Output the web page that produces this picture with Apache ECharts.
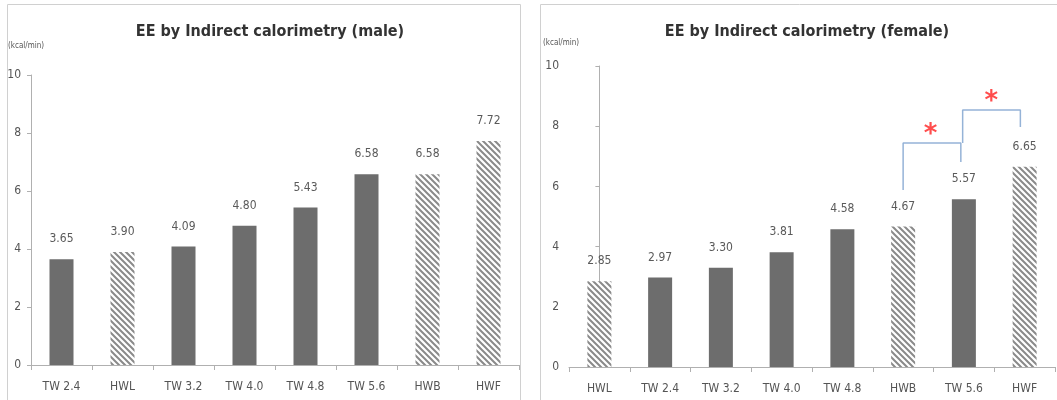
<!DOCTYPE html>
<html>
<head>
<meta charset="utf-8">
<script src="https://cdn.jsdelivr.net/npm/echarts@6/dist/echarts.min.js"></script>
<style>
  html, body { margin: 0; padding: 0; background: #fff; }
  #chart { width: 1057px; height: 400px; }
</style>
</head>
<body>
<div id="chart"></div>
<script>
// male panel
var maleCats = ['TW 2.4', 'HWL', 'TW 3.2', 'TW 4.0', 'TW 4.8', 'TW 5.6', 'HWB', 'HWF'];
var maleVals = [3.65, 3.90, 4.09, 4.80, 5.43, 6.58, 6.58, 7.72];
// female panel
var femaleCats = ['HWL', 'TW 2.4', 'TW 3.2', 'TW 4.0', 'TW 4.8', 'HWB', 'TW 5.6', 'HWF'];
var femaleVals = [2.85, 2.97, 3.30, 3.81, 4.58, 4.67, 5.57, 6.65];
// significance brackets (female), x as category index, y in kcal/min
var bracket1 = [[5, 5.88], [5, 7.44], [5.95, 7.44], [5.95, 6.81]];
var bracket2 = [[5.98, 7.44], [5.98, 8.54], [6.93, 8.54], [6.93, 7.97]];
var stars = [[5.45, 7.87], [6.45, 8.97]];

var hatch = (function () {
    var c = document.createElement('canvas');
    c.width = 6; c.height = 6;
    var g = c.getContext('2d');
    g.fillStyle = '#fff';
    g.fillRect(0, 0, 6, 6);
    g.strokeStyle = '#8a8a8a';
    g.lineWidth = 2;
    g.beginPath();
    g.moveTo(-1, -1); g.lineTo(7, 7);
    g.moveTo(-1, 5); g.lineTo(1, 7);
    g.moveTo(5, -1); g.lineTo(7, 1);
    g.stroke();
    return c;
})();

function barData(cats, vals) {
    return vals.map(function (v, i) {
        var hw = cats[i].indexOf('HW') === 0;
        return {
            value: v,
            itemStyle: { color: hw ? { image: hatch, repeat: 'repeat' } : '#6d6d6d' }
        };
    });
}

var font = "'Liberation Sans Narrow', 'DejaVu Sans Condensed', 'Liberation Sans', sans-serif";

function catAxis(idx, cats) {
    return {
        type: 'category', gridIndex: idx, data: cats,
        axisLine: { lineStyle: { color: '#b0b0b0' } },
        axisTick: { show: true, length: 5, lineStyle: { color: '#b0b0b0' } },
        axisLabel: { color: '#555', fontSize: 12, fontFamily: font, margin: 16 }
    };
}
function valAxis(idx) {
    return {
        type: 'value', gridIndex: idx, min: 0, max: 10, interval: 2,
        axisLine: { show: true, lineStyle: { color: '#b0b0b0' } },
        axisTick: { show: true, length: 4, lineStyle: { color: '#b0b0b0' } },
        axisLabel: { color: '#555', fontSize: 12, fontFamily: font, margin: 10 },
        splitLine: { show: false }
    };
}

var labelStyle = {
    show: true, position: 'top', distance: 14, color: '#5a5a5a', fontSize: 12, fontFamily: font,
    formatter: function (p) { return p.value.toFixed(2); }
};

var chart = echarts.init(document.getElementById('chart'));
chart.setOption({
    animation: false,
    title: [{
        text: 'EE by Indirect calorimetry (male)', left: 265, top: 19, textAlign: 'center',
        textStyle: { fontFamily: font, fontSize: 16, fontWeight: 'bold', color: '#333' }
    }, {
        text: 'EE by Indirect calorimetry (female)', left: 802, top: 19, textAlign: 'center',
        textStyle: { fontFamily: font, fontSize: 16, fontWeight: 'bold', color: '#333' }
    }],
    graphic: [
        { type: 'rect', shape: { x: 7.5, y: 4.5, width: 513, height: 400 }, style: { fill: 'none', stroke: '#d0d0d0', lineWidth: 1 }, silent: true },
        { type: 'rect', shape: { x: 540.5, y: 4.5, width: 520, height: 400 }, style: { fill: 'none', stroke: '#d0d0d0', lineWidth: 1 }, silent: true },
        { type: 'text', left: 8, top: 42, style: { text: '(kcal/min)', fontSize: 8, fill: '#555', fontFamily: font } },
        { type: 'text', left: 543, top: 39, style: { text: '(kcal/min)', fontSize: 8, fill: '#555', fontFamily: font } }
    ],
    grid: [
        { left: 31, right: 538, top: 75, bottom: 35 },
        { left: 569, right: 2, top: 66, bottom: 33 }
    ],
    xAxis: [
        catAxis(0, maleCats),
        catAxis(1, femaleCats),
        { type: 'value', gridIndex: 1, min: -0.5, max: 7.5, show: false }
    ],
    yAxis: [valAxis(0), valAxis(1)],
    series: [{
        type: 'bar', xAxisIndex: 0, yAxisIndex: 0, barWidth: 24,
        data: barData(maleCats, maleVals), label: labelStyle
    }, {
        type: 'bar', xAxisIndex: 1, yAxisIndex: 1, barWidth: 24,
        data: barData(femaleCats, femaleVals), label: labelStyle
    }, {
        type: 'line', xAxisIndex: 2, yAxisIndex: 1, symbol: 'none',
        lineStyle: { color: '#95b3d7', width: 1.5 }, data: bracket1
    }, {
        type: 'line', xAxisIndex: 2, yAxisIndex: 1, symbol: 'none',
        lineStyle: { color: '#95b3d7', width: 1.5 }, data: bracket2
    }, {
        type: 'scatter', xAxisIndex: 2, yAxisIndex: 1, symbolSize: 0,
        label: { show: true, position: 'inside', formatter: '*', color: '#ff2020', fontSize: 26, fontWeight: 'bold', fontFamily: 'DejaVu Sans', offset: [0, 5] },
        data: stars
    }]
});
</script>
</body>
</html>
